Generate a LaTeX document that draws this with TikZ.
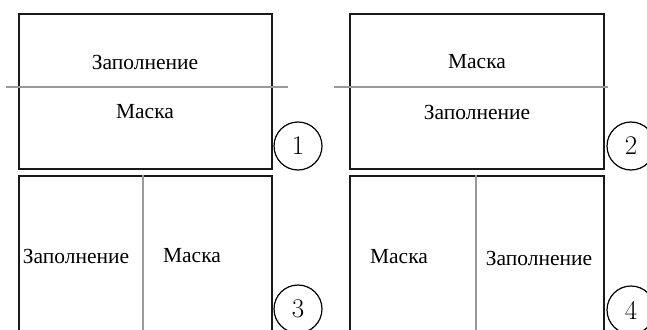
\documentclass[tikz,border=0pt]{standalone}
\usepackage{fontspec}
\newfontfamily\cyr{Liberation Serif}
\begin{document}
\begin{tikzpicture}[x=1pt,y=-1pt,
  panel/.style={draw=black!90,line width=1.6pt,inner sep=0pt,anchor=north west},
  divider/.style={draw=black!40,line width=1.5pt},
  lbl/.style={font=\cyr\fontsize{21.5}{25}\selectfont,inner sep=0pt},
  num/.style={draw=black,circle,line width=1.2pt,minimum size=48pt,inner sep=0pt,font=\fontsize{27}{32}\selectfont}]
\useasboundingbox (0,0) rectangle (647,329);
\clip (0,0) rectangle (647,329);
\fill[white] (0,0) rectangle (647,329);
% panel 1
\node[panel,minimum width=253pt,minimum height=155pt] (p1) at (18,13) {};
\coordinate (d1a) at (6,87); \coordinate (d1b) at (288,87);
\draw[divider] (d1a) -- (d1b);
\node[lbl] (t1a) at (145,62) {Заполнение};
\node[lbl] (t1b) at (145,112) {Маска};
\node[num] (n1) at (298,146) {1};
% panel 2
\node[panel,minimum width=254pt,minimum height=155pt] (p2) at (349,13) {};
\coordinate (d2a) at (334,87); \coordinate (d2b) at (608,87);
\draw[divider] (d2a) -- (d2b);
\node[lbl] (t2a) at (477,62) {Маска};
\node[lbl] (t2b) at (477,112) {Заполнение};
\node[num] (n2) at (631,146) {2};
% panel 3
\node[panel,minimum width=253pt,minimum height=175pt] (p3) at (18,175) {};
\coordinate (d3a) at (143,175); \coordinate (d3b) at (143,350);
\draw[divider] (d3a) -- (d3b);
\node[lbl] (t3a) at (76,256) {Заполнение};
\node[lbl] (t3b) at (192,256) {Маска};
\node[num] (n3) at (298,309) {3};
% panel 4
\node[panel,minimum width=254pt,minimum height=175pt] (p4) at (349,175) {};
\coordinate (d4a) at (476,175); \coordinate (d4b) at (476,350);
\draw[divider] (d4a) -- (d4b);
\node[lbl] (t4a) at (399,257) {Маска};
\node[lbl] (t4b) at (539,258) {Заполнение};
\node[num] (n4) at (631,310) {4};
\end{tikzpicture}
\end{document}
